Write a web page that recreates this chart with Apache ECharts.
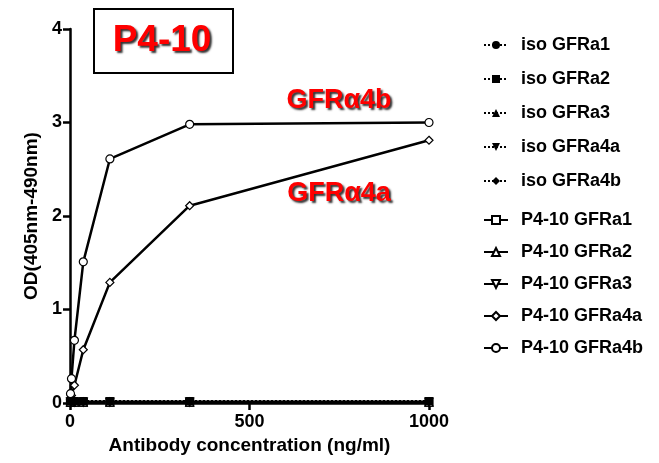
<!DOCTYPE html>
<html>
<head>
    <meta charset="utf-8">
    <title>P4-10 binding</title>
    <script src="https://cdn.jsdelivr.net/npm/echarts@6/dist/echarts.min.js"></script>
    <style>body{margin:0;background:#fff;}</style>
</head>
<body>
    <div id="main" style="width: 659px;height:463px;"></div>
    <script type="text/javascript">
        // 3-fold dilution series, ng/ml
        var conc = [1000, 333.3, 111.1, 37.04, 12.35, 4.12, 1.37];
        var isoA1 = [0.02, 0.02, 0.02, 0.02, 0.02, 0.02, 0.02];
        var isoA2 = [0.02, 0.02, 0.02, 0.02, 0.02, 0.02, 0.02];
        var isoA3 = [0.02, 0.02, 0.02, 0.02, 0.02, 0.02, 0.02];
        var isoA4a = [0.02, 0.02, 0.02, 0.02, 0.02, 0.02, 0.02];
        var isoA4b = [0.02, 0.02, 0.02, 0.02, 0.02, 0.02, 0.02];
        var p4A1 = [0.01, 0.01, 0.01, 0.01, 0.01, 0.01, 0.01];
        var p4A2 = [0.01, 0.01, 0.01, 0.01, 0.01, 0.01, 0.01];
        var p4A3 = [0.01, 0.01, 0.01, 0.01, 0.01, 0.01, 0.01];
        var p4A4a = [2.81, 2.11, 1.29, 0.57, 0.19, 0.08, 0.04];
        var p4A4b = [3.0, 2.98, 2.61, 1.51, 0.67, 0.26, 0.1];
        var yTicks = [0, 1, 2, 3, 4];
        var xTicks = [0, 500, 1000];

        var myChart = echarts.init(document.getElementById('main'));
        var font = 'Liberation Sans, Arial, sans-serif';
        var invTri = 'path://M0,0 L10,0 L5,9 Z';

        function pairs(vals) {
            return vals.map(function (v, i) { return [conc[i], v]; });
        }
        // isotype controls: dotted, filled markers, drawn over the flat P4-10 lines
        function iso(name, vals, symbol, z) {
            return {
                name: name, type: 'line', data: pairs(vals),
                symbol: symbol, symbolSize: 8,
                itemStyle: {color: '#000'},
                lineStyle: {color: '#000', width: 2, type: 'dotted'},
                z: z
            };
        }
        function p4(name, vals, symbol) {
            return {
                name: name, type: 'line', data: pairs(vals),
                symbol: symbol, symbolSize: 8,
                itemStyle: {color: '#fff', borderColor: '#000', borderWidth: 1.2},
                lineStyle: {color: '#000', width: 2.5},
                z: 4
            };
        }

        var series = [
            iso('iso GFRa1', isoA1, 'circle', 5),
            iso('iso GFRa2', isoA2, 'rect', 6),
            iso('iso GFRa3', isoA3, 'triangle', 5),
            iso('iso GFRa4a', isoA4a, invTri, 5),
            iso('iso GFRa4b', isoA4b, 'diamond', 5),
            p4('P4-10 GFRa1', p4A1, 'rect'),
            p4('P4-10 GFRa2', p4A2, 'triangle'),
            p4('P4-10 GFRa3', p4A3, invTri),
            p4('P4-10 GFRa4a', p4A4a, 'diamond'),
            p4('P4-10 GFRa4b', p4A4b, 'circle')
        ];

        var legendText = {fontFamily: font, fontSize: 18, fontWeight: 'bold', color: '#000',
                          lineHeight: 20, padding: [0, 0, 0, 8]};
        var names = series.map(function (s) { return s.name; });
        var labelStyle = {fontFamily: font, fontSize: 18, fontWeight: 'bold', color: '#000'};
        var redText = function (txt, x, y, size) {
            return {
                type: 'text', x: x, y: y,
                style: {
                    text: txt, fill: '#ff0000',
                    font: 'bold ' + size + 'px ' + font,
                    align: 'center', verticalAlign: 'middle',
                    textShadowColor: '#333', textShadowBlur: 2,
                    textShadowOffsetX: 2, textShadowOffsetY: 2
                }
            };
        };

        var option = {
            animation: false,
            textStyle: {fontFamily: font},
            grid: {left: 70, right: 230, top: 29, bottom: 60},
            legend: [{
                data: names.slice(0, 5),
                orient: 'vertical', left: 478, top: 30,
                itemGap: 14, itemWidth: 24, itemHeight: 10,
                textStyle: legendText
            }, {
                data: names.slice(5),
                orient: 'vertical', left: 478, top: 205,
                itemGap: 12, itemWidth: 24, itemHeight: 10,
                textStyle: legendText
            }],
            xAxis: {
                type: 'value', min: xTicks[0], max: xTicks[xTicks.length - 1], interval: 500,
                name: 'Antibody concentration (ng/ml)',
                nameLocation: 'middle', nameGap: 33,
                nameTextStyle: {fontFamily: font, fontSize: 19, fontWeight: 'bold', color: '#000'},
                axisLine: {onZero: false, lineStyle: {color: '#000', width: 2.5}},
                axisTick: {show: true, length: 7, lineStyle: {color: '#000', width: 2.5}},
                axisLabel: {
                    fontFamily: font, fontSize: 18, fontWeight: 'bold', color: '#000', margin: 10,
                    formatter: function (v) { return String(v); }
                },
                splitLine: {show: false}
            },
            yAxis: {
                type: 'value', min: yTicks[0], max: yTicks[yTicks.length - 1], interval: 1,
                name: 'OD(405nm-490nm)',
                nameLocation: 'middle', nameGap: 28,
                nameTextStyle: {fontFamily: font, fontSize: 19, fontWeight: 'bold', color: '#000'},
                axisLine: {show: true, lineStyle: {color: '#000', width: 2.5}},
                axisTick: {show: true, length: 7, lineStyle: {color: '#000', width: 2.5}},
                axisLabel: labelStyle,
                splitLine: {show: false}
            },
            graphic: [{
                type: 'rect', left: 93, top: 8,
                shape: {width: 139, height: 64},
                style: {fill: '#fff', stroke: '#000', lineWidth: 2}
            },
                redText('P4-10', 162, 41, 37),
                redText('GFRα4b', 339, 101, 27),
                redText('GFRα4a', 339, 194, 27)
            ],
            series: series
        };
        myChart.setOption(option);
    </script>
</body>
</html>
